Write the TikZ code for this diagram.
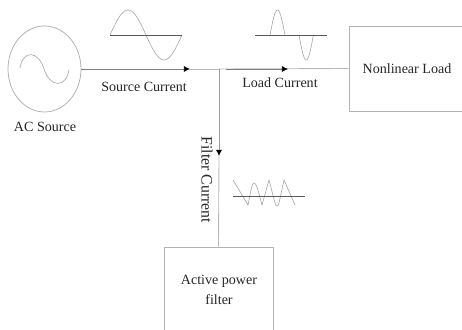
\documentclass[tikz,border=0pt]{standalone}
\usepackage{fontspec}
\setmainfont{Liberation Serif}
\usetikzlibrary{shapes.geometric, arrows.meta}

\tikzset{
    wire/.style={gray!55, line width=0.5pt},
    flow/.style={black!50, line width=0.45pt, -{Latex[black, length=3.5pt, width=3.5pt]}},
    block/.style={draw=gray!60, line width=0.45pt, inner sep=0pt},
    wave/.style={gray!70, line width=0.35pt},
    axisline/.style={black!65, line width=0.5pt},
    label/.style={font=\fontsize{8}{10}\selectfont, text=black!85, inner sep=0pt, align=center},
}

\begin{document}
\begin{tikzpicture}[x=0.02cm, y=-0.02cm]
    \clip[use as bounding box] (0, 0) rectangle (462, 330);

    % Blocks
    \node[block, ellipse, minimum width=1.46cm, minimum height=1.72cm] (source) at (44.5, 69) {};
    \node[block, minimum width=2.62cm, minimum height=1.7cm] (load) at (414.5, 68.5) {};
    \node[block, minimum width=2.18cm, minimum height=2.06cm] (filter) at (218.5, 298.5) {};

    \node[label] (sourcetext) at (45, 127) {AC Source};
    \node[label] (loadtext) at (407, 69) {Nonlinear Load};
    \node[label] (filtertext) at (219, 290) {Active power\\[1pt]filter};

    % Sine inside the source
    \draw[wave] (20, 68) .. controls (23, 50) and (38, 50) .. (44, 69)
        .. controls (50, 88) and (66, 88) .. (69, 70);

    % Wires
    \coordinate (junction) at (219, 69);
    \coordinate (sourcetip) at (190, 69);
    \coordinate (loadstart) at (226, 69);
    \coordinate (loadtip) at (288, 69);
    \coordinate (filtertip) at (219, 156);

    \draw[wire] (sourcetip) -- (junction);
    \draw[wire] (junction) -- (load.west);
    \draw[flow] (source.east) -- (sourcetip);
    \draw[flow] (loadstart) -- (loadtip);
    \draw[flow, black!40] (junction) -- (filtertip);
    \draw[wire] (filtertip) -- (filter.north);

    \node[label] (sourcecurrent) at (144, 87) {Source Current};
    \node[label] (loadcurrent) at (280, 83) {Load Current};
    \node[label, rotate=-90, font=\fontsize{9}{10}\selectfont] (filtercurrent) at (207, 180) {Filter Current};

    % Source current wave
    \draw[wave] plot[domain=0:360, samples=50] ({110 + \x/5}, {35 - 25*sin(\x)});
    \draw[axisline] (110, 35) -- (182, 35);

    % Load current wave
    \draw[wave] plot[domain=0:180, samples=25] ({270 + \x/12}, {35 - 25*sin(\x)});
    \draw[wave] plot[domain=0:180, samples=25] ({299 + \x/12.5}, {35 + 25*sin(\x)});
    \draw[axisline] (255, 35) -- (327, 35);

    % Filter current wave
    \draw[wave] (233, 180) -- (248, 205) .. controls (251, 190) and (252, 183) .. (254, 183)
        .. controls (257, 183) and (259, 195) .. (262, 205) -- (269, 180)
        -- (275, 203) .. controls (276, 207) and (278, 207) .. (279, 203) -- (284, 180) -- (295, 205);
    \draw[axisline] (233, 196) -- (305, 196);
\end{tikzpicture}
\end{document}
